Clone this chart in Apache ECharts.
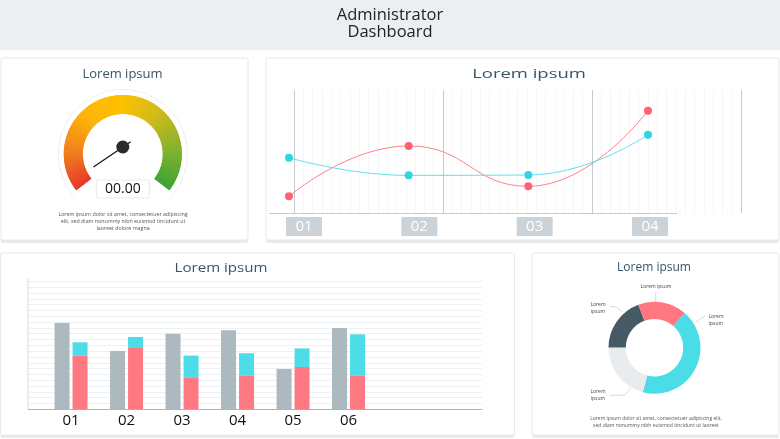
<!DOCTYPE html>
<html>
<head>
<meta charset="utf-8">
<title>Administrator Dashboard</title>
<style>
	html, body { margin: 0; padding: 0; background: #fff; }
	#main { width: 780px; height: 439px; }
</style>
<script src="https://cdn.jsdelivr.net/npm/echarts@6/dist/echarts.min.js"></script>
</head>
<body>
<div id="main"></div>
<script>
//------------数据-------------//
var gaugeValue = 4
var gaugeText = '00.00'

var lineCategories = ['01', '02', '03', '04']
var lineRed = [13.6, 54.5, 21.7, 83.2]
var lineCyan = [45, 30.6, 30.9, 63.7]

var barCategories = ['01', '02', '03', '04', '05', '06']
var barGrey = [65.7, 44.4, 57.6, 60.2, 30.7, 61.9]
var barRed = [41.1, 46.7, 23.9, 25.9, 32.2, 25.9]
var barCyan = [9.9, 8.4, 17, 16.8, 14.2, 31.2]

var donutNames = ['Lorem\nipsum', 'Lorem\nipsum', 'Lorem\nipsum', 'Lorem ipsum']
var donutValues = [42.7, 21, 19.2, 17.1]

var FONT = '"Open Sans", sans-serif'

//仪表盘颜色：多段拼成扫描渐变，shift 错开半段用来盖住接缝
var gaugeKeys = ['#e5362b', '#f2811d', '#fdb50a', '#ffc000', '#cdbb1c', '#86b22e', '#3fa535']
function gaugeStops(shift) {
	var stops = []
	for(var i = 1; i <= 90; i++) {
		var pos = (i - shift) / 90
		stops.push([pos, echarts.color.lerp(pos, gaugeKeys)])
	}
	if(shift) {
		stops.push([1, gaugeKeys[gaugeKeys.length - 1]])
	}
	return stops
}

function gaugeBand(shift) {
	return {
		type: 'gauge', center: [122.8, 154], radius: 59, startAngle: 218, endAngle: -38,
		axisLine: { lineStyle: { width: 19, color: gaugeStops(shift) } },
		axisTick: { show: false }, splitLine: { show: false }, axisLabel: { show: false },
		pointer: { show: false }, anchor: { show: false }, title: { show: false }, detail: { show: false },
		data: [{ value: 0 }]
	}
}

//面板
function panel(x, y, w, h) {
	return [{
		type: 'rect', z: -10, silent: true,
		shape: { x: x, y: y + 3, width: w, height: h, r: 2 },
		style: { fill: '#e6ebef' }
	}, {
		type: 'rect', z: -9, silent: true,
		shape: { x: x, y: y, width: w, height: h, r: 2 },
		style: { fill: '#fff', stroke: '#e4e8eb', lineWidth: 1 }
	}]
}

function label(text, x, y, size, color, scaleX) {
	return {
		type: 'text', z: 20, silent: true,
		x: x, y: y, scaleX: scaleX || 1,
		style: {
			text: text, fill: color, font: size + 'px ' + FONT,
			align: 'center', verticalAlign: 'middle'
		}
	}
}

var graphics = [{
	type: 'rect', z: -10, silent: true,
	shape: { x: 0, y: 0, width: 780, height: 50 },
	style: { fill: '#eceff2' }
}]
graphics = graphics.concat(
	panel(1, 58, 247, 182),
	panel(266, 58, 513, 182),
	panel(0.5, 253, 514, 182),
	panel(532, 253, 247, 182)
)
graphics.push(
	label('Administrator', 390, 15.5, 16.5, '#222'),
	label('Dashboard', 390, 32.5, 16.5, '#222'),
	label('Lorem ipsum', 122.5, 74.5, 13, '#34566a'),
	label('Lorem ipsum', 529, 74.5, 13, '#34566a', 1.42),
	label('Lorem ipsum', 221, 268, 13, '#34566a', 1.16),
	label('Lorem ipsum', 654, 268, 12, '#34566a'),
	label('Lorem ipsum dolor sit amet, consectetuer adipiscing', 123, 214.5, 5.3, '#555'),
	label('elit, sed diam nonummy nibh euismod tincidunt ut', 123, 221.5, 5.3, '#555'),
	label('laoreet dolore magna', 123, 228, 5.3, '#555'),
	label('Lorem ipsum dolor sit amet, consectetuer adipiscing elit,', 656, 419, 5, '#555'),
	label('sed diam nonummy nibh euismod tincidunt ut laoreet', 656, 425.5, 5, '#555')
)
//折线图底线、柱状图左线
graphics.push({
	type: 'line', z: 3, silent: true,
	shape: { x1: 269, y1: 213.5, x2: 677, y2: 213.5 },
	style: { stroke: '#c3ccd1', lineWidth: 1 }
}, {
	type: 'line', z: 3, silent: true,
	shape: { x1: 28, y1: 278, x2: 28, y2: 409 },
	style: { stroke: '#d5dde2', lineWidth: 1 }
})

//甜甜圈标签位置和引线
var donutLabelPos = [[716, 320], [598, 395], [598, 308], [656, 287]]
var donutLeaders = [
	[[696, 322.3], [700, 319], [705, 316]],
	[[631, 388.3], [624.3, 395.3], [610, 395.3]],
	[[622.7, 311.7], [615.7, 306.7], [610, 306.7]],
	[[655.7, 302], [655.7, 297], [655.7, 292]]
]

var option = {
	animation: false,
	backgroundColor: 'transparent',
	textStyle: { fontFamily: FONT },
	graphic: graphics,
	grid: [
		{ left: 294, top: 90, width: 447, height: 123 }, //折线背景
		{ left: 289, top: 90, width: 359, height: 123 }, //折线
		{ left: 246.3, top: 90, width: 461.4, height: 123 }, //折线标签
		{ left: 28, top: 281.3, width: 454, height: 128 }, //柱状背景
		{ left: 43.3, top: 278, width: 333, height: 131.3 } //柱状
	],
	xAxis: [
		{
			gridIndex: 0, type: 'value', min: 0, max: 3, interval: 1,
			axisLine: { show: false }, axisTick: { show: false }, axisLabel: { show: false },
			splitLine: { show: true, lineStyle: { color: '#c3ccd1', width: 1 } },
			minorTick: { show: false, splitNumber: 16 },
			minorSplitLine: { show: true, lineStyle: { color: '#f4f6f7', width: 1 } }
		},
		{ gridIndex: 1, type: 'category', boundaryGap: false, data: lineCategories, show: false },
		{
			gridIndex: 2, type: 'category', data: lineCategories,
			axisLine: { show: false }, axisTick: { show: false },
			axisLabel: {
				margin: 4, color: '#fff', fontSize: 15, fontFamily: FONT,
				backgroundColor: '#cbd3d8', width: 36, height: 19, lineHeight: 19,
				align: 'center', verticalAlign: 'top', borderRadius: 1
			}
		},
		{
			gridIndex: 3, type: 'value', min: 0, max: 1,
			axisLine: { show: true, lineStyle: { color: '#a9b4bb', width: 1 } },
			axisTick: { show: false }, axisLabel: { show: false }, splitLine: { show: false }
		},
		{
			gridIndex: 4, type: 'category', data: barCategories,
			axisLine: { show: false }, axisTick: { show: false },
			axisLabel: { margin: 4, color: '#111', fontSize: 15, fontFamily: FONT }
		}
	],
	yAxis: [
		{ gridIndex: 0, type: 'value', min: 0, max: 100, show: false },
		{ gridIndex: 1, type: 'value', min: 0, max: 100, show: false },
		{ gridIndex: 2, type: 'value', min: 0, max: 100, show: false },
		{
			gridIndex: 3, type: 'value', min: 0, max: 22, interval: 1,
			axisLine: { show: false }, axisTick: { show: false }, axisLabel: { show: false },
			splitLine: { show: true, lineStyle: { color: '#eef1f3', width: 1 } }
		},
		{ gridIndex: 4, type: 'value', min: 0, max: 100, show: false }
	],
	series: [
		//-----折线
		{
			type: 'line', name: 'red', xAxisIndex: 1, yAxisIndex: 1, data: lineRed,
			smooth: 0.5, symbol: 'circle', symbolSize: 8,
			lineStyle: { color: '#ff8189', width: 1 }, itemStyle: { color: '#ff6370' }
		},
		{
			type: 'line', name: 'cyan', xAxisIndex: 1, yAxisIndex: 1, data: lineCyan,
			smooth: 0.5, symbol: 'circle', symbolSize: 8,
			lineStyle: { color: '#5fe0ea', width: 1 }, itemStyle: { color: '#2fd6e6' }
		},
		//-----柱状
		{
			type: 'bar', name: 'grey', xAxisIndex: 4, yAxisIndex: 4, data: barGrey,
			barWidth: 15, barGap: '20%', itemStyle: { color: '#acb9bf' }
		},
		{
			type: 'bar', name: 'barRed', xAxisIndex: 4, yAxisIndex: 4, data: barRed, stack: 'b',
			barWidth: 15, itemStyle: { color: '#ff7983' }
		},
		{
			type: 'bar', name: 'barCyan', xAxisIndex: 4, yAxisIndex: 4, data: barCyan, stack: 'b',
			barWidth: 15, itemStyle: { color: '#4cdde8' }
		},
		//-----甜甜圈
		{
			type: 'pie', center: [654.5, 347.7], radius: [28.7, 46], startAngle: 49, clockwise: true,
			data: donutValues.map(function(v, i) {
				return { value: v, name: donutNames[i] + '#' + i }
			}),
			color: ['#4adde8', '#e9ecef', '#465a66', '#ff7780'],
			label: {
				show: true, fontSize: 5, lineHeight: 7, color: '#444', fontFamily: FONT,
				formatter: function(p) { return donutNames[p.dataIndex] }
			},
			labelLine: { show: true, length: 6, length2: 5, lineStyle: { color: '#c9cfd3', width: 0.8 } },
			labelLayout: function(p) {
				var pos = donutLabelPos[p.dataIndex]
				return {
					x: pos[0], y: pos[1], align: 'center', verticalAlign: 'middle',
					labelLinePoints: donutLeaders[p.dataIndex]
				}
			}
		},
		//-----仪表盘 虚线外圈
		{
			type: 'gauge', center: [122.8, 154], radius: 65, startAngle: 222, endAngle: -42,
			axisLine: { show: false, lineStyle: { width: 0 } },
			splitLine: { show: false }, axisLabel: { show: false }, pointer: { show: false },
			anchor: { show: false }, title: { show: false }, detail: { show: false },
			splitNumber: 10,
			axisTick: { show: true, splitNumber: 12, distance: 0, length: 1, lineStyle: { color: '#c8ced2', width: 0.8 } },
			data: [{ value: 0 }]
		},
		//-----仪表盘 色带
		gaugeBand(0),
		gaugeBand(0.5),
		//-----仪表盘 指针
		{
			type: 'gauge', center: [122.8, 147], radius: 40, startAngle: 225, endAngle: -45, z: 5,
			axisLine: { show: false }, axisTick: { show: false }, splitLine: { show: false }, axisLabel: { show: false },
			pointer: { show: true, icon: 'rect', length: 45, width: 1.2, offsetCenter: [0, 9.5], itemStyle: { color: '#111' } },
			anchor: { show: true, showAbove: true, size: 13, itemStyle: { color: '#2b2b2b', borderWidth: 0 } },
			title: { show: false },
			detail: {
				show: true, offsetCenter: [0, 42], width: 52, height: 17, lineHeight: 17, padding: 0,
				fontSize: 14, fontWeight: 'normal', color: '#111', fontFamily: FONT,
				backgroundColor: '#fff', borderColor: '#e6eaec', borderWidth: 1, borderRadius: 2,
				formatter: function() { return gaugeText }
			},
			data: [{ value: gaugeValue }]
		}
	]
}

var myChart = echarts.init(document.getElementById('main'), null, { renderer: 'canvas' })
myChart.setOption(option)
</script>
</body>
</html>
